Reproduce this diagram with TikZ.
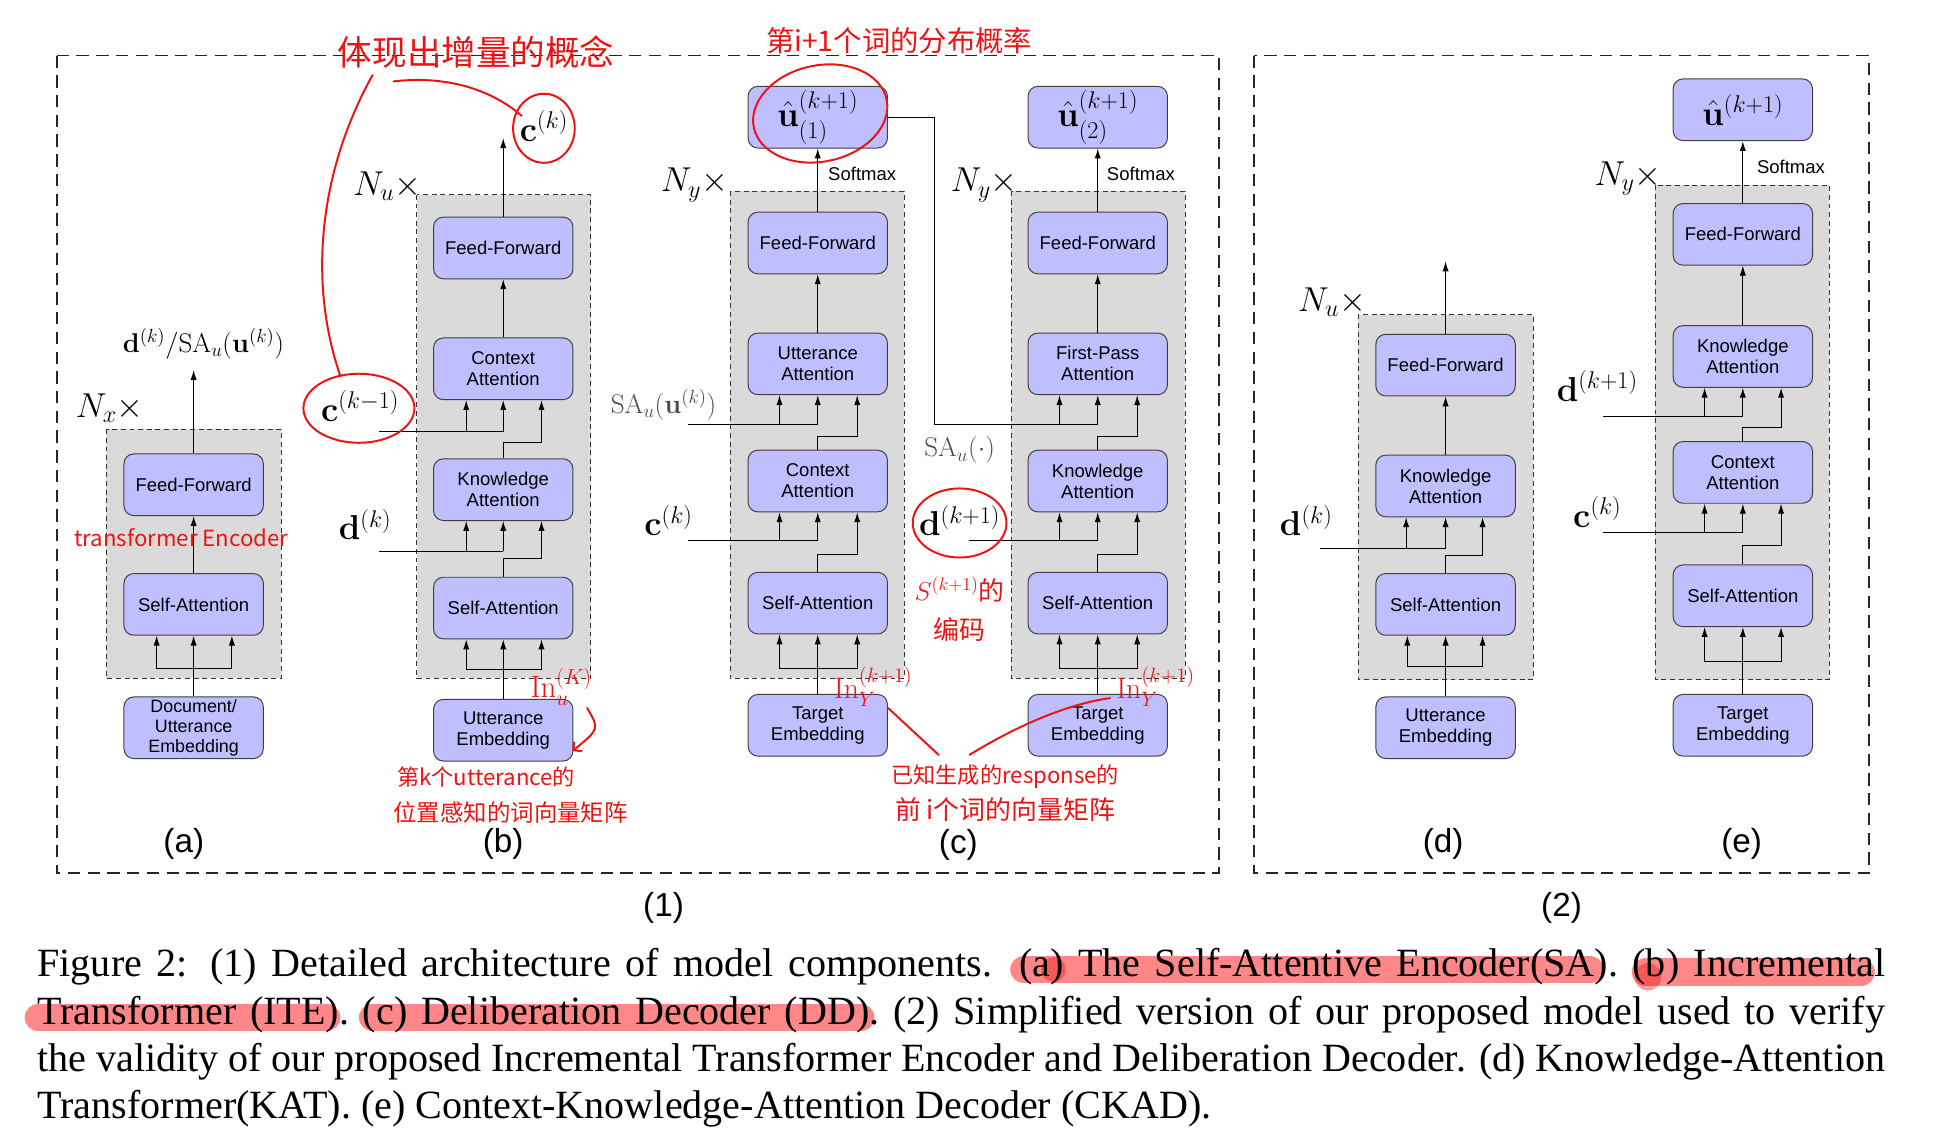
\RequirePackage{fix-cm}
\documentclass[tikz,border=0pt]{standalone}
\usepackage{amsmath}
\usepackage{amssymb}
\usepackage[no-math]{fontspec}
\usepackage{tikz}
\usetikzlibrary{arrows.meta}
\usetikzlibrary{calc}
\newfontfamily\boxfont{Liberation Sans}
\newfontfamily\capfont{Liberation Serif}
\newfontfamily\handfont{Noto Sans CJK SC}
\definecolor{periwinkle}{RGB}{191,191,255}
\definecolor{silvergray}{RGB}{218,218,218}
\definecolor{penred}{RGB}{238,18,18}
\definecolor{markerred}{RGB}{255,122,122}
\tikzset{
	block/.style={draw=black!75, fill=periwinkle, rounded corners=8pt, minimum width=113pt, minimum height=50pt, inner sep=1pt, align=center, font=\boxfont\fontsize{15}{17}\selectfont},
	boxtext/.style={inner sep=0pt, font=\boxfont\fontsize{15}{17}\selectfont},
	layer/.style={draw=black!80, fill=silvergray, dash pattern=on 4pt off 3pt, line width=0.8pt},
	frame/.style={draw=black!85, dash pattern=on 10pt off 6pt, line width=1.6pt},
	vec/.style={inner sep=0pt, font=\fontsize{28}{30}\selectfont},
	said/.style={inner sep=0pt, text=black!70, font=\fontsize{22}{24}\selectfont},
	tag/.style={inner sep=0pt, font=\boxfont\fontsize{27}{29}\selectfont},
	pen/.style={penred, line width=1.6pt, line cap=round},
	hand/.style={penred, inner sep=0pt, font=\handfont\fontsize{19}{21}\selectfont},
	marker/.style={markerred, line width=22pt, line cap=round, opacity=0.9},
	capline/.style={anchor=base west, inner sep=0pt, font=\capfont\fontsize{32.5}{38}\selectfont}
}

\begin{document}
\begin{tikzpicture}[x=1pt, y=-1pt, >={Latex[length=8pt,width=5pt]}, line width=0.8pt]
	\useasboundingbox (0,0) rectangle (1568,919);

	\draw[frame] (46,45) rectangle (988,708);
	\draw[frame] (1017,45) rectangle (1515,708);

	\draw[layer] (86,348) rectangle (228,550);
	\draw[layer] (338,158) rectangle (479,550);
	\draw[layer] (592,155) rectangle (733,550);
	\draw[layer] (820,155) rectangle (961,550);
	\draw[layer] (1101,255) rectangle (1243,551);
	\draw[layer] (1342,150) rectangle (1483,551);

	\node[block] (aff) at (157,393) {Feed-Forward};
	\node[block] (asa) at (157,490) {Self-Attention};
	\node[block, inner sep=0pt, font=\boxfont\fontsize{14.5}{16}\selectfont] (aemb) at (157,590) {Document/\\Utterance\\Embedding};
	\coordinate (aout) at (157,300);
	\coordinate (asplit) at (157,542);
	\draw[->] (aemb.north) -- (asa.south);
	\draw[->] (asplit) -| ($(asa.south)+(-30,0)$);
	\draw[->] (asplit) -| ($(asa.south)+(31,0)$);
	\draw[->] (asa.north) -- (aff.south);
	\draw[->] (aff.north) -- (aout);
	\node[vec, font=\fontsize{22}{24}\selectfont] (adk) at (165,279) {$\mathbf{d}^{(k)}/\mathrm{SA}_u(\mathbf{u}^{(k)})$};
	\node[vec] (anx) at (89,331) {$N_x\times$};

	\node[block] (bff) at (408,201) {Feed-Forward};
	\node[block] (bca) at (408,299) {Context\\Attention};
	\node[block] (bka) at (408,397) {Knowledge\\Attention};
	\node[block] (bsa) at (408,493) {Self-Attention};
	\node[block] (bemb) at (408,592) {Utterance\\Embedding};
	\coordinate (bout) at (408,112);
	\coordinate (bcin) at (307,350);
	\coordinate (bdin) at (307,447);
	\coordinate (bsplit) at (408,543);
	\draw[->] (bemb.north) -- (bsa.south);
	\draw[->] (bsplit) -| ($(bsa.south)+(-30,0)$);
	\draw[->] (bsplit) -| ($(bsa.south)+(31,0)$);
	\draw (bdin) -- (bdin -| bka.south);
	\draw[->] (bdin -| bka.south) -- (bka.south);
	\draw[->] ($(bdin -| bka.south)+(-30,0)$) -- ($(bka.south)+(-30,0)$);
	\draw[->] (bsa.north) -- ++(0,-15) -| ($(bka.south)+(31,0)$);
	\draw (bcin) -- (bcin -| bca.south);
	\draw[->] (bcin -| bca.south) -- (bca.south);
	\draw[->] ($(bcin -| bca.south)+(-30,0)$) -- ($(bca.south)+(-30,0)$);
	\draw[->] (bka.north) -- ++(0,-13) -| ($(bca.south)+(31,0)$);
	\draw[->] (bca.north) -- (bff.south);
	\draw[->] (bff.north) -- (bout);
	\node[vec] (bck) at (441,102) {$\mathbf{c}^{(k)}$};
	\node[vec] (bck1) at (292,329) {$\mathbf{c}^{(k-1)}$};
	\node[vec] (bdk) at (296,425) {$\mathbf{d}^{(k)}$};
	\node[vec] (bnu) at (314,151) {$N_u\times$};

	\node[block, font=\fontsize{28}{30}\selectfont] (cu1) at (663,95) {$\hat{\mathbf{u}}^{(k+1)}_{(1)}$};
	\node[block] (cff1) at (663,197) {Feed-Forward};
	\node[block] (cua) at (663,295) {Utterance\\Attention};
	\node[block] (cca) at (663,390) {Context\\Attention};
	\node[block] (csa1) at (663,489) {Self-Attention};
	\node[block] (cemb1) at (663,588) {Target\\Embedding};
	\coordinate (csain) at (558,344);
	\coordinate (ccin) at (558,438);
	\coordinate (c1split) at (663,542);
	\draw[->] (cemb1.north) -- (csa1.south);
	\draw[->] (c1split) -| ($(csa1.south)+(-31,0)$);
	\draw[->] (c1split) -| ($(csa1.south)+(32,0)$);
	\draw (ccin) -- (ccin -| cca.south);
	\draw[->] (ccin -| cca.south) -- (cca.south);
	\draw[->] ($(ccin -| cca.south)+(-31,0)$) -- ($(cca.south)+(-31,0)$);
	\draw[->] (csa1.north) -- ++(0,-14) -| ($(cca.south)+(32,0)$);
	\draw (csain) -- (csain -| cua.south);
	\draw[->] (csain -| cua.south) -- (cua.south);
	\draw[->] ($(csain -| cua.south)+(-31,0)$) -- ($(cua.south)+(-31,0)$);
	\draw[->] (cca.north) -- ++(0,-11) -| ($(cua.south)+(32,0)$);
	\draw[->] (cua.north) -- (cff1.south);
	\draw[->] (cff1.north) -- (cu1.south);
	\node[boxtext] (csm1) at (699,141) {Softmax};
	\node[said] (csau) at (538,328) {$\mathrm{SA}_u(\mathbf{u}^{(k)})$};
	\node[vec] (cck) at (542,422) {$\mathbf{c}^{(k)}$};
	\node[vec] (cny1) at (563,150) {$N_y\times$};

	\node[block, font=\fontsize{28}{30}\selectfont] (cu2) at (890,95) {$\hat{\mathbf{u}}^{(k+1)}_{(2)}$};
	\node[block] (cff2) at (890,197) {Feed-Forward};
	\node[block] (cfp) at (890,295) {First-Pass\\Attention};
	\node[block] (cka) at (890,390) {Knowledge\\Attention};
	\node[block] (csa2) at (890,489) {Self-Attention};
	\node[block] (cemb2) at (890,588) {Target\\Embedding};
	\coordinate (cfpin) at (890,344);
	\coordinate (cdin) at (786,438);
	\coordinate (c2split) at (890,542);
	\draw[->] (cemb2.north) -- (csa2.south);
	\draw[->] (c2split) -| ($(csa2.south)+(-31,0)$);
	\draw[->] (c2split) -| ($(csa2.south)+(32,0)$);
	\draw (cdin) -- (cdin -| cka.south);
	\draw[->] (cdin -| cka.south) -- (cka.south);
	\draw[->] ($(cdin -| cka.south)+(-31,0)$) -- ($(cka.south)+(-31,0)$);
	\draw[->] (csa2.north) -- ++(0,-14) -| ($(cka.south)+(32,0)$);
	\draw (cu1.east) -- ++(38,0) |- (cfpin);
	\draw[->] (cfpin) -- (cfp.south);
	\draw[->] ($(cfpin)+(-31,0)$) -- ($(cfp.south)+(-31,0)$);
	\draw[->] (cka.north) -- ++(0,-11) -| ($(cfp.south)+(32,0)$);
	\draw[->] (cfp.north) -- (cff2.south);
	\draw[->] (cff2.north) -- (cu2.south);
	\node[boxtext] (csm2) at (925,141) {Softmax};
	\node[said] (csadot) at (778,365) {$\mathrm{SA}_u(\cdot)$};
	\node[vec] (cdk1) at (778,422) {$\mathbf{d}^{(k+1)}$};
	\node[vec] (cny2) at (798,150) {$N_y\times$};

	\node[block] (dff) at (1172,296) {Feed-Forward};
	\node[block] (dka) at (1172,394) {Knowledge\\Attention};
	\node[block] (dsa) at (1172,490) {Self-Attention};
	\node[block] (demb) at (1172,590) {Utterance\\Embedding};
	\coordinate (dout) at (1172,212);
	\coordinate (ddin) at (1070,445);
	\coordinate (dsplit) at (1172,540);
	\draw[->] (demb.north) -- (dsa.south);
	\draw[->] (dsplit) -| ($(dsa.south)+(-31,0)$);
	\draw[->] (dsplit) -| ($(dsa.south)+(30,0)$);
	\draw (ddin) -- (ddin -| dka.south);
	\draw[->] (ddin -| dka.south) -- (dka.south);
	\draw[->] ($(ddin -| dka.south)+(-32,0)$) -- ($(dka.south)+(-32,0)$);
	\draw[->] (dsa.north) -- ++(0,-14) -| ($(dka.south)+(30,0)$);
	\draw[->] (dka.north) -- (dff.south);
	\draw[->] (dff.north) -- (dout);
	\node[vec] (ddk) at (1059,422) {$\mathbf{d}^{(k)}$};
	\node[vec] (dnu) at (1080,245) {$N_u\times$};

	\node[block, font=\fontsize{28}{30}\selectfont] (eu) at (1413,89) {$\hat{\mathbf{u}}^{(k+1)}$};
	\node[block] (eff) at (1413,190) {Feed-Forward};
	\node[block] (eka) at (1413,289) {Knowledge\\Attention};
	\node[block] (eca) at (1413,383) {Context\\Attention};
	\node[block] (esa) at (1413,483) {Self-Attention};
	\node[block] (eemb) at (1413,588) {Target\\Embedding};
	\coordinate (edin) at (1300,338);
	\coordinate (ecin) at (1300,432);
	\coordinate (esplit) at (1413,536);
	\draw[->] (eemb.north) -- (esa.south);
	\draw[->] (esplit) -| ($(esa.south)+(-31,0)$);
	\draw[->] (esplit) -| ($(esa.south)+(31,0)$);
	\draw (ecin) -- (ecin -| eca.south);
	\draw[->] (ecin -| eca.south) -- (eca.south);
	\draw[->] ($(ecin -| eca.south)+(-31,0)$) -- ($(eca.south)+(-31,0)$);
	\draw[->] (esa.north) -- ++(0,-15) -| ($(eca.south)+(31,0)$);
	\draw (edin) -- (edin -| eka.south);
	\draw[->] (edin -| eka.south) -- (eka.south);
	\draw[->] ($(edin -| eka.south)+(-31,0)$) -- ($(eka.south)+(-31,0)$);
	\draw[->] (eca.north) -- ++(0,-11) -| ($(eka.south)+(31,0)$);
	\draw[->] (eka.north) -- (eff.south);
	\draw[->] (eff.north) -- (eu.south);
	\node[boxtext] (esm) at (1452,135) {Softmax};
	\node[vec] (edk1) at (1295,313) {$\mathbf{d}^{(k+1)}$};
	\node[vec] (eck) at (1295,415) {$\mathbf{c}^{(k)}$};
	\node[vec] (eny) at (1320,145) {$N_y\times$};

	\node[tag] (taga) at (149,684) {(a)};
	\node[tag] (tagb) at (408,684) {(b)};
	\node[tag] (tagc) at (777,685) {(c)};
	\node[tag] (tagd) at (1170,684) {(d)};
	\node[tag] (tage) at (1412,684) {(e)};
	\node[tag] (tag1) at (538,736) {(1)};
	\node[tag] (tag2) at (1266,736) {(2)};

	\draw[marker] (830,786) -- (1289,786);
	\draw[marker] (1334,788) -- (1509,788);
	\draw[marker] (31,825) -- (265,825);
	\draw[marker] (302,825) -- (698,825);
	\fill[penred, opacity=0.4] (854,786) circle (10);
	\fill[penred, opacity=0.4] (1336,792) circle (11);

	\node[capline] (cap1) at (30,792) {\makebox[1498pt][s]{Figure 2: (1) Detailed architecture of model components. (a) The Self-Attentive Encoder(SA). (b) Incremental}};
	\node[capline] (cap2) at (30,831) {\makebox[1498pt][s]{Transformer (ITE). (c) Deliberation Decoder (DD). (2) Simplified version of our proposed model used to verify}};
	\node[capline] (cap3) at (30,869) {\makebox[1498pt][s]{the validity of our proposed Incremental Transformer Encoder and Deliberation Decoder. (d) Knowledge-Attention}};
	\node[capline] (cap4) at (30,907) {Transformer(KAT). (e) Context-Knowledge-Attention Decoder (CKAD).};

	\node[hand, font=\handfont\fontsize{28}{30}\selectfont] (note1) at (386,42) {体现出增量的概念};
	\draw[pen] (302,61) .. controls (258,140) and (250,230) .. (276,305);
	\draw[pen] (319,66) .. controls (370,60) and (405,78) .. (423,94);
	\draw[pen] (441,104) ellipse [x radius=25, y radius=28];
	\draw[pen] (291,331) ellipse [x radius=45, y radius=28];
	\node[hand, font=\handfont\fontsize{23}{25}\selectfont] (note2) at (729,33) {第i+1个词的分布概率};
	\draw[pen, rotate around={12:(665,92)}] (665,92) ellipse [x radius=55, y radius=39];
	\node[hand, font=\handfont\fontsize{18}{20}\selectfont] (note3) at (147,436) {transformer Encoder};
	\node[hand, font=\fontsize{25}{27}\selectfont] (inu) at (455,557) {$\mathrm{In}_u^{(K)}$};
	\draw[pen, -{Straight Barb[length=5pt]}] (476,574) .. controls (486,591) .. (464,609);
	\node[hand, font=\handfont\fontsize{18}{20}\selectfont] (note4) at (394,630) {第k个utterance的};
	\node[hand] (note5) at (414,659) {位置感知的词向量矩阵};
	\node[hand, font=\fontsize{24}{26}\selectfont] (iny1) at (708,557) {$\mathrm{In}_Y^{(k+1)}$};
	\node[hand, font=\fontsize{24}{26}\selectfont] (iny2) at (937,557) {$\mathrm{In}_Y^{(k+1)}$};
	\draw[pen] (720,574) -- (761,612);
	\draw[pen] (786,612) .. controls (830,585) and (870,570) .. (900,566);
	\draw[pen] (778,424) ellipse [x radius=38, y radius=28];
	\node[hand, font=\handfont\fontsize{21}{23}\selectfont] (note6) at (778,478) {$S^{(k+1)}$的};
	\node[hand, font=\handfont\fontsize{21}{23}\selectfont] (note7) at (778,510) {编码};
	\node[hand, font=\handfont\fontsize{18}{20}\selectfont] (note8) at (815,630) {已知生成的response的};
	\node[hand, font=\handfont\fontsize{21}{23}\selectfont] (note9) at (815,656) {前 i个词的向量矩阵};
\end{tikzpicture}
\end{document}
